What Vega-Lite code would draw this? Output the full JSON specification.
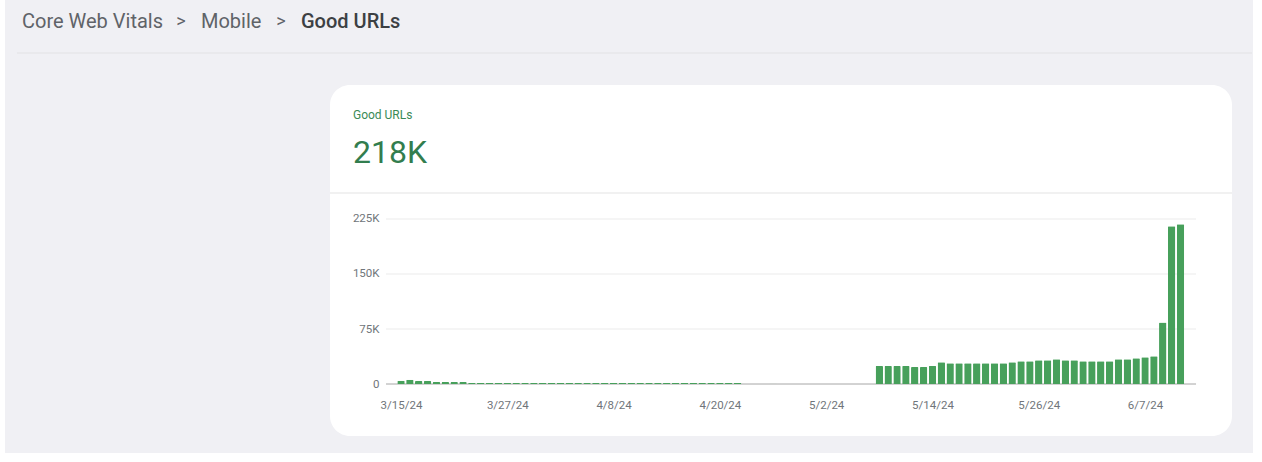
{
  "$schema": "https://vega.github.io/schema/vega-lite/v6.json",
  "autosize": {"type": "none"},
  "padding": {"left": 330, "top": 85, "right": 30, "bottom": 26},
  "width": 902,
  "height": 351,
  "background": "white",
  "config": {
    "view": {"stroke": null, "fill": null},
    "scale": {"continuousPadding": 0},
    "axis": {"title": null, "grid": false, "domain": false, "ticks": false, "labelFont": "Roboto", "labelFontSize": 11.5, "labelColor": "#70757a"}
  },
  "layer": [
    {
      "data": {"values": [{}]},
      "mark": {"type": "rect", "fill": "#f0f0f4"},
      "encoding": {
        "x": {"datum": {"year": 2024, "month": 1, "date": 30, "hours": 19}, "type": "temporal"},
        "x2": {"datum": {"year": 2024, "month": 6, "date": 19, "hours": 16, "minutes": 36}},
        "y": {"datum": 530000, "type": "quantitative"},
        "y2": {"datum": -94091}
      }
    },
    {
      "data": {"values": [{}]},
      "mark": {"type": "rect", "fill": "white", "cornerRadius": 20},
      "encoding": {
        "x": {"datum": {"year": 2024, "month": 3, "date": 7, "hours": 11, "minutes": 37}, "type": "temporal"},
        "x2": {"datum": {"year": 2024, "month": 6, "date": 17, "hours": 7, "minutes": 41}},
        "y": {"datum": 407727, "type": "quantitative"},
        "y2": {"datum": -70909}
      }
    },
    {
      "data": {"values": [{}]},
      "mark": {"type": "rule", "color": "#e2e2e4", "strokeWidth": 1},
      "encoding": {
        "x": {"datum": {"year": 2024, "month": 2, "date": 1, "hours": 3, "minutes": 22}, "type": "temporal"},
        "x2": {"datum": {"year": 2024, "month": 6, "date": 19, "hours": 14}},
        "y": {"datum": 451364, "type": "quantitative"}
      }
    },
    {
      "data": {"values": [{}]},
      "mark": {"type": "rule", "color": "#e3e3e3", "strokeWidth": 1},
      "encoding": {
        "x": {"datum": {"year": 2024, "month": 3, "date": 7, "hours": 11, "minutes": 37}, "type": "temporal"},
        "x2": {"datum": {"year": 2024, "month": 6, "date": 17, "hours": 7, "minutes": 41}},
        "y": {"datum": 260455, "type": "quantitative"}
      }
    },
    {
      "data": {"values": [{"tick": 75000}, {"tick": 150000}, {"tick": 225000}]},
      "mark": {"type": "rule", "color": "#ebebeb", "strokeWidth": 1},
      "encoding": {
        "x": {"datum": {"year": 2024, "month": 3, "date": 13, "hours": 19, "minutes": 26}, "type": "temporal"},
        "x2": {"datum": {"year": 2024, "month": 6, "date": 13, "hours": 6, "minutes": 15}},
        "y": {"field": "tick", "type": "quantitative"}
      }
    },
    {
      "data": {"values": [{}]},
      "mark": {"type": "rule", "color": "#a6a6a6", "strokeWidth": 1},
      "encoding": {
        "x": {"datum": {"year": 2024, "month": 3, "date": 13, "hours": 19, "minutes": 26}, "type": "temporal"},
        "x2": {"datum": {"year": 2024, "month": 6, "date": 13, "hours": 6, "minutes": 15}},
        "y": {"datum": 0, "type": "quantitative"}
      }
    },
    {
      "data": {"values": [
        {"date": "2024-03-15T12:00", "good": 4500},
        {"date": "2024-03-16T12:00", "good": 5900},
        {"date": "2024-03-17T12:00", "good": 4100},
        {"date": "2024-03-18T12:00", "good": 4100},
        {"date": "2024-03-19T12:00", "good": 2700},
        {"date": "2024-03-20T12:00", "good": 2700},
        {"date": "2024-03-21T12:00", "good": 2700},
        {"date": "2024-03-22T12:00", "good": 2700},
        {"date": "2024-03-23T12:00", "good": 1500},
        {"date": "2024-03-24T12:00", "good": 1500},
        {"date": "2024-03-25T12:00", "good": 1500},
        {"date": "2024-03-26T12:00", "good": 1500},
        {"date": "2024-03-27T12:00", "good": 1500},
        {"date": "2024-03-28T12:00", "good": 1500},
        {"date": "2024-03-29T12:00", "good": 1500},
        {"date": "2024-03-30T12:00", "good": 1500},
        {"date": "2024-03-31T12:00", "good": 1500},
        {"date": "2024-04-01T12:00", "good": 1500},
        {"date": "2024-04-02T12:00", "good": 1500},
        {"date": "2024-04-03T12:00", "good": 1500},
        {"date": "2024-04-04T12:00", "good": 1500},
        {"date": "2024-04-05T12:00", "good": 1500},
        {"date": "2024-04-06T12:00", "good": 1500},
        {"date": "2024-04-07T12:00", "good": 1500},
        {"date": "2024-04-08T12:00", "good": 1500},
        {"date": "2024-04-09T12:00", "good": 1500},
        {"date": "2024-04-10T12:00", "good": 1500},
        {"date": "2024-04-11T12:00", "good": 1500},
        {"date": "2024-04-12T12:00", "good": 1500},
        {"date": "2024-04-13T12:00", "good": 1500},
        {"date": "2024-04-14T12:00", "good": 1500},
        {"date": "2024-04-15T12:00", "good": 1500},
        {"date": "2024-04-16T12:00", "good": 1500},
        {"date": "2024-04-17T12:00", "good": 1500},
        {"date": "2024-04-18T12:00", "good": 1500},
        {"date": "2024-04-19T12:00", "good": 1500},
        {"date": "2024-04-20T12:00", "good": 1500},
        {"date": "2024-04-21T12:00", "good": 1500},
        {"date": "2024-04-22T12:00", "good": 1500},
        {"date": "2024-04-26T12:00", "good": 400},
        {"date": "2024-05-08T12:00", "good": 24600},
        {"date": "2024-05-09T12:00", "good": 24600},
        {"date": "2024-05-10T12:00", "good": 24600},
        {"date": "2024-05-11T12:00", "good": 24500},
        {"date": "2024-05-12T12:00", "good": 23200},
        {"date": "2024-05-13T12:00", "good": 23200},
        {"date": "2024-05-14T12:00", "good": 24600},
        {"date": "2024-05-15T12:00", "good": 29500},
        {"date": "2024-05-16T12:00", "good": 28200},
        {"date": "2024-05-17T12:00", "good": 28200},
        {"date": "2024-05-18T12:00", "good": 28200},
        {"date": "2024-05-19T12:00", "good": 28200},
        {"date": "2024-05-20T12:00", "good": 28200},
        {"date": "2024-05-21T12:00", "good": 28200},
        {"date": "2024-05-22T12:00", "good": 28200},
        {"date": "2024-05-23T12:00", "good": 29500},
        {"date": "2024-05-24T12:00", "good": 30900},
        {"date": "2024-05-25T12:00", "good": 30900},
        {"date": "2024-05-26T12:00", "good": 32300},
        {"date": "2024-05-27T12:00", "good": 32300},
        {"date": "2024-05-28T12:00", "good": 33600},
        {"date": "2024-05-29T12:00", "good": 32300},
        {"date": "2024-05-30T12:00", "good": 32300},
        {"date": "2024-05-31T12:00", "good": 30900},
        {"date": "2024-06-01T12:00", "good": 30900},
        {"date": "2024-06-02T12:00", "good": 30900},
        {"date": "2024-06-03T12:00", "good": 30900},
        {"date": "2024-06-04T12:00", "good": 33600},
        {"date": "2024-06-05T12:00", "good": 33600},
        {"date": "2024-06-06T12:00", "good": 35000},
        {"date": "2024-06-07T12:00", "good": 36400},
        {"date": "2024-06-08T12:00", "good": 37700},
        {"date": "2024-06-09T12:00", "good": 84000},
        {"date": "2024-06-10T12:00", "good": 215000},
        {"date": "2024-06-11T12:00", "good": 218000}
      ]},
      "mark": {"type": "bar", "color": "#47a05b", "width": 7.4, "cornerRadiusTopLeft": 1, "cornerRadiusTopRight": 1},
      "encoding": {
        "x": {
          "field": "date", "type": "temporal",
          "scale": {"domain": [{"year": 2024, "month": 3, "date": 7, "hours": 11, "minutes": 37}, {"year": 2024, "month": 6, "date": 17, "hours": 7, "minutes": 41}], "nice": false, "padding": 0},
          "axis": {
            "orient": "bottom", "offset": -52, "labelPadding": 15, "format": "%-m/%-d/%y", "labelOverlap": false, "labelFlush": false, "zindex": 1,
            "values": [
              {"year": 2024, "month": 3, "date": 15, "hours": 12},
              {"year": 2024, "month": 3, "date": 27, "hours": 12},
              {"year": 2024, "month": 4, "date": 8, "hours": 12},
              {"year": 2024, "month": 4, "date": 20, "hours": 12},
              {"year": 2024, "month": 5, "date": 2, "hours": 12},
              {"year": 2024, "month": 5, "date": 14, "hours": 12},
              {"year": 2024, "month": 5, "date": 26, "hours": 12},
              {"year": 2024, "month": 6, "date": 7, "hours": 12}
            ]
          }
        },
        "y": {
          "field": "good", "type": "quantitative",
          "scale": {"domain": [-70909, 407727], "nice": false, "zero": false, "padding": 0},
          "axis": {
            "orient": "left", "offset": -56, "labelPadding": 7, "zindex": 1,
            "values": [0, 75000, 150000, 225000],
            "labelExpr": "datum.value == 0 ? '0' : (datum.value / 1000) + 'K'"
          }
        }
      }
    },
    {
      "data": {"values": [{}]},
      "mark": {"type": "text", "align": "left", "baseline": "middle", "font": "Roboto", "fontSize": 20, "color": "#5f6368"},
      "encoding": {
        "x": {"datum": {"year": 2024, "month": 2, "date": 1, "hours": 17}, "type": "temporal"},
        "y": {"datum": 492955, "type": "quantitative"},
        "text": {"value": "Core Web Vitals"}
      }
    },
    {
      "data": {"values": [{}]},
      "mark": {"type": "text", "align": "center", "baseline": "middle", "font": "Roboto", "fontSize": 18, "color": "#5f6368"},
      "encoding": {
        "x": {"datum": {"year": 2024, "month": 2, "date": 19, "hours": 15, "minutes": 50}, "type": "temporal"},
        "y": {"datum": 492955, "type": "quantitative"},
        "text": {"value": ">"}
      }
    },
    {
      "data": {"values": [{}]},
      "mark": {"type": "text", "align": "left", "baseline": "middle", "font": "Roboto", "fontSize": 20, "color": "#5f6368"},
      "encoding": {
        "x": {"datum": {"year": 2024, "month": 2, "date": 21, "hours": 22}, "type": "temporal"},
        "y": {"datum": 492955, "type": "quantitative"},
        "text": {"value": "Mobile"}
      }
    },
    {
      "data": {"values": [{}]},
      "mark": {"type": "text", "align": "center", "baseline": "middle", "font": "Roboto", "fontSize": 18, "color": "#5f6368"},
      "encoding": {
        "x": {"datum": {"year": 2024, "month": 3, "date": 1, "hours": 22, "minutes": 48}, "type": "temporal"},
        "y": {"datum": 492955, "type": "quantitative"},
        "text": {"value": ">"}
      }
    },
    {
      "data": {"values": [{}]},
      "mark": {"type": "text", "align": "left", "baseline": "middle", "font": "Roboto", "fontSize": 20, "fontWeight": 500, "color": "#3c4043"},
      "encoding": {
        "x": {"datum": {"year": 2024, "month": 3, "date": 4, "hours": 5}, "type": "temporal"},
        "y": {"datum": 492955, "type": "quantitative"},
        "text": {"value": "Good URLs"}
      }
    },
    {
      "data": {"values": [{}]},
      "mark": {"type": "text", "align": "left", "baseline": "middle", "font": "Roboto", "fontSize": 12, "color": "#3a8a56"},
      "encoding": {
        "x": {"datum": {"year": 2024, "month": 3, "date": 10, "hours": 1, "minutes": 54}, "type": "temporal"},
        "y": {"datum": 366818, "type": "quantitative"},
        "text": {"value": "Good URLs"}
      }
    },
    {
      "data": {"values": [{}]},
      "mark": {"type": "text", "align": "left", "baseline": "alphabetic", "font": "Roboto", "fontSize": 32, "color": "#327d4e"},
      "encoding": {
        "x": {"datum": {"year": 2024, "month": 3, "date": 10, "hours": 1, "minutes": 54}, "type": "temporal"},
        "y": {"datum": 301364, "type": "quantitative"},
        "text": {"value": "218K"}
      }
    }
  ]
}
